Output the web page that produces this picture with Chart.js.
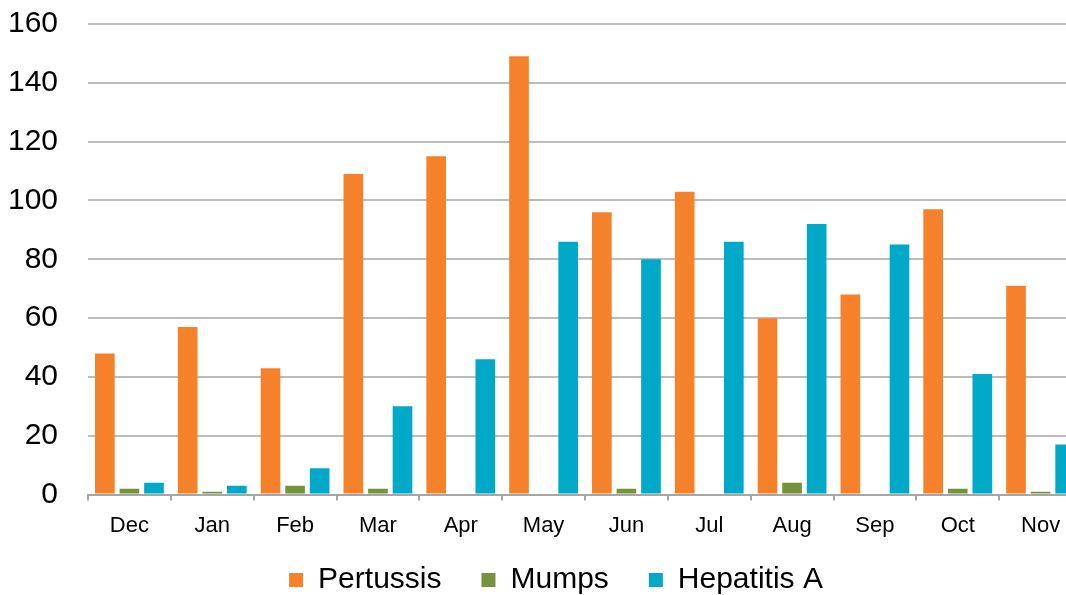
<!DOCTYPE html>
<html>
<head>
<meta charset="utf-8">
<script src="https://cdn.jsdelivr.net/npm/chart.js@4/dist/chart.umd.min.js"></script>
<style>
    html, body { margin: 0; padding: 0; background: #fff; overflow: hidden; }
    #wrap { position: relative; width: 1082px; height: 595px; }
</style>
</head>
<body>
<div id="wrap"><canvas id="chart"></canvas></div>
<script>
// ------------------------------------------------------------
// 데이터
// ------------------------------------------------------------
const MONTHS = ["Dec", "Jan", "Feb", "Mar", "Apr", "May", "Jun", "Jul", "Aug", "Sep", "Oct", "Nov"];
const PERTUSSIS = [48, 57, 43, 109, 115, 149, 96, 103, 60, 68, 97, 71];
const MUMPS = [2, 1, 3, 2, 0, 0, 2, 0, 4, 0, 2, 1];
const HEPATITIS_A = [4, 3, 9, 30, 46, 86, 80, 86, 92, 85, 41, 17];
const Y_MAX = 160;
const Y_STEP = 20;

const FONT = "'Liberation Sans', Arial, sans-serif";

const bar = (label, data, color) => ({
    label,
    data,
    backgroundColor: color,
    borderWidth: 0,
    categoryPercentage: 0.89,
    barPercentage: 0.8,
});

// 범례 위치 보정 (가운데 정렬 기준을 원본과 맞춤)
const legendShift = {
    id: "legendShift",
    afterLayout(chart) {
        const lg = chart.legend;
        if (!lg) return;
        lg.left += 15; lg.right += 15;
        lg.top -= 26; lg.bottom -= 26;
    },
};

new Chart(document.getElementById("chart"), {
    type: "bar",
    data: {
        labels: MONTHS,
        datasets: [
            bar("Pertussis", PERTUSSIS, "#F5822B"),
            bar("Mumps", MUMPS, "#77923D"),
            bar("Hepatitis A", HEPATITIS_A, "#01A9C8"),
        ],
    },
    plugins: [legendShift],
    options: {
        responsive: true,
        maintainAspectRatio: false,
        animation: false,
        layout: { padding: { top: 24, left: 0, right: 0, bottom: -36 } },
        plugins: {
            tooltip: { enabled: false },
            legend: {
                position: "bottom",
                labels: {
                    color: "#000",
                    font: { family: FONT, size: 30 },
                    boxWidth: 14,
                    boxHeight: 14,
                    padding: 40,
                },
            },
        },
        scales: {
            x: {
                grid: {
                    offset: true,
                    drawOnChartArea: false,
                    drawTicks: true,
                    tickLength: 6,
                    color: "#a6a6a6",
                    lineWidth: 2,
                },
                border: { color: "#a6a6a6", width: 2 },
                ticks: {
                    color: "#000",
                    font: { family: FONT, size: 22 },
                    padding: 12,
                    maxRotation: 0,
                },
            },
            y: {
                min: 0,
                max: Y_MAX,
                afterFit: (scale) => { scale.width = 88; },
                grid: {
                    color: "#bcbcbc",
                    lineWidth: 2,
                    drawTicks: true,
                    tickLength: 30,
                    tickColor: "rgba(0,0,0,0)",
                },
                border: { display: false },
                ticks: {
                    stepSize: Y_STEP,
                    color: "#000",
                    font: { family: FONT, size: 30 },
                    padding: 0,
                },
            },
        },
    },
});
</script>
</body>
</html>
